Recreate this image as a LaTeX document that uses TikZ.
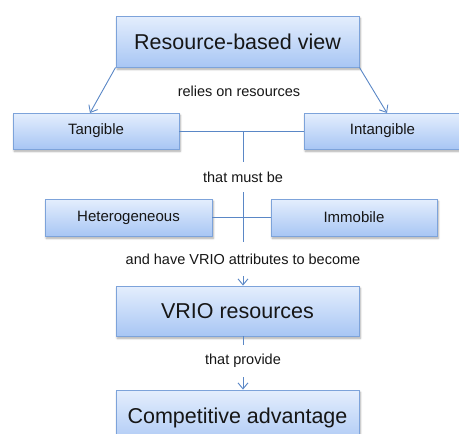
\documentclass[tikz,border=0pt]{standalone}
\usepackage{fontspec}
\setmainfont{Liberation Sans}
\usetikzlibrary{arrows.meta,shadows.blur}
\definecolor{boxtop}{HTML}{E4EEFD}
\definecolor{boxbot}{HTML}{A8C6F4}
\definecolor{boxline}{HTML}{7DA3DA}
\definecolor{linkcol}{HTML}{5A87C6}
\definecolor{ink}{HTML}{161616}
\tikzset{
  box/.style={draw=boxline, line width=0.9pt, top color=boxtop, bottom color=boxbot,
    text=ink, inner sep=0pt,
    blur shadow={shadow xshift=1.2pt, shadow yshift=-2.2pt, shadow blur steps=6, shadow opacity=35}},
  bigbox/.style={box, font=\fontsize{21.5}{24}\selectfont},
  smallbox/.style={box, font=\fontsize{15}{17}\selectfont},
  lbl/.style={fill=white, text=ink, inner sep=0pt, font=\fontsize{14.5}{17}\selectfont},
  link/.style={draw=linkcol, line width=0.9pt},
  tip/.style={link, -{Straight Barb[length=6pt,width=10pt,line width=0.9pt]}}
}
\begin{document}
\begin{tikzpicture}[x=1pt,y=-1pt]
\useasboundingbox (0,0) rectangle (459,434);
\clip (0,0) rectangle (459,434);

% boxes
\node[bigbox, minimum width=243pt, minimum height=51pt] (rbv) at (237.5,41.5) {Resource-based view};
\node[smallbox, minimum width=166pt, minimum height=36pt] (tang) at (96,131) {Tangible};
\node[smallbox, minimum width=157pt, minimum height=36pt] (intang) at (382.5,131) {Intangible};
\node[smallbox, minimum width=167pt, minimum height=37pt] (het) at (128.5,217.5) {Heterogeneous};
\node[smallbox, minimum width=166pt, minimum height=37pt] (imm) at (354,217.5) {Immobile};
\node[bigbox, minimum width=243pt, minimum height=50pt] (vrio) at (237.5,311) {VRIO resources};
\node[bigbox, minimum width=243pt, minimum height=58pt] (comp) at (237.5,419) {\raisebox{6pt}{Competitive advantage}};

% connector labels, on the central spine at x = 243
\node[lbl] (relies) at (239,91) {relies on resources};
\coordinate (j1) at (243,131);
\node[lbl, minimum height=30pt] (must) at (243,177) {that must be};
\node[lbl, minimum height=34pt] (become) at (243,259) {and have VRIO attributes to become};
\node[lbl, minimum height=32pt] (provide) at (243,361) {that provide};

% connectors
\coordinate (tangtop) at (90,113);
\coordinate (intangtop) at (387,113);
\draw[tip] (rbv.south west) -- (tangtop);
\draw[tip] (rbv.south east) -- (intangtop);
\draw[link] (tang.east) -- (intang.west);
\draw[link] (j1) -- (must.north);
\draw[link] (het.east) -- (imm.west);
\draw[link] (must.south) -- (become.north);
\draw[tip] (become.south) -- (become.south |- vrio.north);
\draw[link] (provide.north |- vrio.south) -- (provide.north);
\draw[tip] (provide.south) -- (provide.south |- comp.north);
\end{tikzpicture}
\end{document}
